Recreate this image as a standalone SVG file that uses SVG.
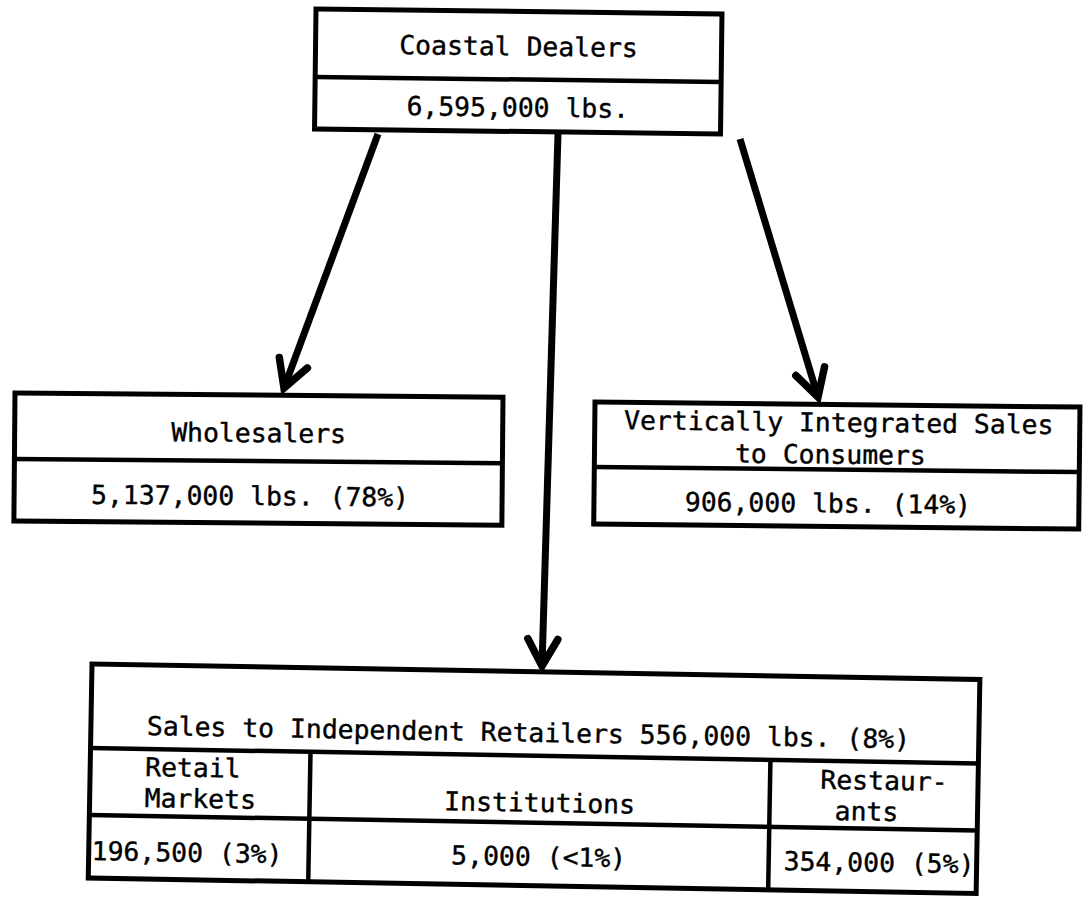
<svg xmlns="http://www.w3.org/2000/svg" width="1092" height="897" viewBox="0 0 1092 897">
<style>
.bx{fill:#fff;stroke:#000;stroke-width:5}
.ln{stroke:#000;stroke-width:4.5;fill:none}
.t{font-family:"DejaVu Sans Mono","Liberation Mono",monospace;font-size:26px;fill:#000;stroke:#000;stroke-width:0.4}
.m{text-anchor:middle}
.ar{stroke:#000;stroke-width:7;fill:none;marker-end:url(#ah)}
</style>
<defs>
<marker id="ah" markerUnits="userSpaceOnUse" orient="auto" refX="0" refY="0" markerWidth="60" markerHeight="60" viewBox="-40 -30 60 60" overflow="visible">
<path d="M-27,-15 L0,0 L-27,15" fill="none" stroke="#000" stroke-width="7.5" stroke-linejoin="miter" stroke-linecap="round"/>
</marker>
</defs>
<rect width="1092" height="897" fill="#fff"/>
<g id="coastal-dealers" transform="rotate(0.7 316 9)">
<rect class="bx" x="316" y="9" width="406" height="120"/>
<line class="ln" x1="316" y1="77" x2="722" y2="77"/>
<text class="t m" x="519" y="53" textLength="238.5" lengthAdjust="spacingAndGlyphs">Coastal Dealers</text>
<text class="t m" x="519" y="114" textLength="222.6" lengthAdjust="spacingAndGlyphs">6,595,000 lbs.</text>
</g>
<g id="wholesalers" transform="rotate(0.5 15 393)">
<rect class="bx" x="15" y="393" width="488" height="128"/>
<line class="ln" x1="15" y1="459" x2="503" y2="459"/>
<text class="t m" x="259" y="440" textLength="174.9" lengthAdjust="spacingAndGlyphs">Wholesalers</text>
<text class="t m" x="251" y="503" textLength="318" lengthAdjust="spacingAndGlyphs">5,137,000 lbs. (78%)</text>
</g>
<g id="vertically-integrated" transform="rotate(0.6 595 402)">
<rect class="bx" x="595" y="402" width="485" height="122"/>
<line class="ln" x1="595" y1="467" x2="1080" y2="467"/>
<text class="t m" x="839" y="429" textLength="429.3" lengthAdjust="spacingAndGlyphs">Vertically Integrated Sales</text>
<text class="t m" x="831" y="461" textLength="190.8" lengthAdjust="spacingAndGlyphs">to Consumers</text>
<text class="t m" x="829" y="510" textLength="286.2" lengthAdjust="spacingAndGlyphs">906,000 lbs. (14%)</text>
</g>
<g id="independent-retailers" transform="rotate(1 92 664)">
<rect class="bx" x="92" y="664" width="888" height="214"/>
<line class="ln" x1="92" y1="748" x2="980" y2="748"/>
<line class="ln" x1="92" y1="815" x2="980" y2="815"/>
<line class="ln" x1="312" y1="748" x2="312" y2="878"/>
<line class="ln" x1="772" y1="748" x2="772" y2="878"/>
<text class="t" x="148" y="734" textLength="763.2" lengthAdjust="spacingAndGlyphs">Sales to Independent Retailers 556,000 lbs. (8%)</text>
<text class="t" x="147" y="775" textLength="95.4" lengthAdjust="spacingAndGlyphs">Retail</text>
<text class="t" x="147" y="806" textLength="111.3" lengthAdjust="spacingAndGlyphs">Markets</text>
<text class="t m" x="542" y="804" textLength="190.8" lengthAdjust="spacingAndGlyphs">Institutions</text>
<text class="t m" x="886" y="776" textLength="127.2" lengthAdjust="spacingAndGlyphs">Restaur-</text>
<text class="t m" x="869" y="807" textLength="63.6" lengthAdjust="spacingAndGlyphs">ants</text>
<text class="t" x="95" y="860" textLength="190.8" lengthAdjust="spacingAndGlyphs">196,500 (3%)</text>
<text class="t m" x="542" y="858" textLength="174.9" lengthAdjust="spacingAndGlyphs">5,000 (&lt;1%)</text>
<text class="t" x="787" y="858" textLength="190.8" lengthAdjust="spacingAndGlyphs">354,000 (5%)</text>
</g>
<g id="connectors">
<line class="ar" x1="378" y1="134" x2="284" y2="388"/>
<line class="ar" x1="558" y1="134" x2="542" y2="666"/>
<line class="ar" x1="740" y1="139" x2="818" y2="397"/>
</g>
</svg>
